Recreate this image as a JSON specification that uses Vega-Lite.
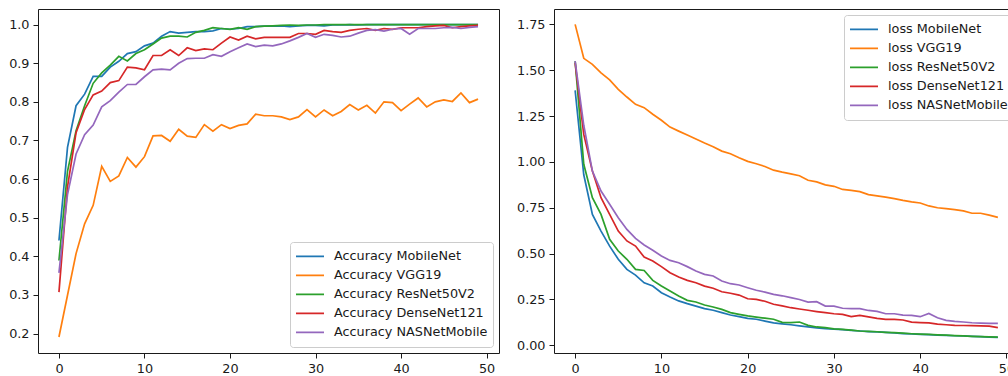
{
"$schema": "https://vega.github.io/schema/vega-lite/v6.json",
"padding": {"left": 8, "top": 8, "right": 0, "bottom": 0},
"background": "white",
"config": {
  "font": "DejaVu Sans",
  "view": {"stroke": "#1a1a1a", "strokeWidth": 1},
  "axis": {"grid": false, "domain": false, "tickSize": 5, "tickColor": "#1a1a1a", "tickWidth": 1, "labelColor": "#1a1a1a", "labelFontSize": 12.8, "labelPadding": 4, "labelFont": "DejaVu Sans", "title": null},
  "legend": {"symbolType": "stroke", "symbolSize": 784, "symbolStrokeWidth": 2, "labelFontSize": 12.8, "labelColor": "#1a1a1a", "labelFont": "DejaVu Sans", "padding": 5, "offset": 6, "strokeColor": "#cccccc", "fillColor": "rgba(255,255,255,0.85)", "cornerRadius": 3, "labelOffset": 9, "rowPadding": 0, "clipHeight": 18.6, "title": null},
  "line": {"strokeWidth": 1.7}
},
"data": {"values": [
{"epoch":0,"model":"MobileNet","acc":0.441,"loss":1.39},
{"epoch":1,"model":"MobileNet","acc":0.682,"loss":0.93},
{"epoch":2,"model":"MobileNet","acc":0.79,"loss":0.714},
{"epoch":3,"model":"MobileNet","acc":0.82,"loss":0.623},
{"epoch":4,"model":"MobileNet","acc":0.866,"loss":0.541},
{"epoch":5,"model":"MobileNet","acc":0.866,"loss":0.469},
{"epoch":6,"model":"MobileNet","acc":0.89,"loss":0.414},
{"epoch":7,"model":"MobileNet","acc":0.905,"loss":0.383},
{"epoch":8,"model":"MobileNet","acc":0.925,"loss":0.341},
{"epoch":9,"model":"MobileNet","acc":0.93,"loss":0.323},
{"epoch":10,"model":"MobileNet","acc":0.945,"loss":0.287},
{"epoch":11,"model":"MobileNet","acc":0.952,"loss":0.263},
{"epoch":12,"model":"MobileNet","acc":0.97,"loss":0.242},
{"epoch":13,"model":"MobileNet","acc":0.982,"loss":0.227},
{"epoch":14,"model":"MobileNet","acc":0.978,"loss":0.214},
{"epoch":15,"model":"MobileNet","acc":0.98,"loss":0.2},
{"epoch":16,"model":"MobileNet","acc":0.982,"loss":0.191},
{"epoch":17,"model":"MobileNet","acc":0.982,"loss":0.178},
{"epoch":18,"model":"MobileNet","acc":0.984,"loss":0.165},
{"epoch":19,"model":"MobileNet","acc":0.99,"loss":0.156},
{"epoch":20,"model":"MobileNet","acc":0.988,"loss":0.147},
{"epoch":21,"model":"MobileNet","acc":0.99,"loss":0.142},
{"epoch":22,"model":"MobileNet","acc":0.995,"loss":0.132},
{"epoch":23,"model":"MobileNet","acc":0.995,"loss":0.122},
{"epoch":24,"model":"MobileNet","acc":0.996,"loss":0.117},
{"epoch":25,"model":"MobileNet","acc":0.996,"loss":0.112},
{"epoch":26,"model":"MobileNet","acc":0.997,"loss":0.106},
{"epoch":27,"model":"MobileNet","acc":0.995,"loss":0.1},
{"epoch":28,"model":"MobileNet","acc":0.997,"loss":0.095},
{"epoch":29,"model":"MobileNet","acc":0.998,"loss":0.091},
{"epoch":30,"model":"MobileNet","acc":0.998,"loss":0.088},
{"epoch":31,"model":"MobileNet","acc":0.997,"loss":0.085},
{"epoch":32,"model":"MobileNet","acc":0.999,"loss":0.081},
{"epoch":33,"model":"MobileNet","acc":0.999,"loss":0.078},
{"epoch":34,"model":"MobileNet","acc":1.0,"loss":0.075},
{"epoch":35,"model":"MobileNet","acc":0.999,"loss":0.073},
{"epoch":36,"model":"MobileNet","acc":1.0,"loss":0.07},
{"epoch":37,"model":"MobileNet","acc":1.0,"loss":0.067},
{"epoch":38,"model":"MobileNet","acc":1.0,"loss":0.064},
{"epoch":39,"model":"MobileNet","acc":1.0,"loss":0.062},
{"epoch":40,"model":"MobileNet","acc":1.0,"loss":0.06},
{"epoch":41,"model":"MobileNet","acc":1.0,"loss":0.058},
{"epoch":42,"model":"MobileNet","acc":1.0,"loss":0.056},
{"epoch":43,"model":"MobileNet","acc":1.0,"loss":0.054},
{"epoch":44,"model":"MobileNet","acc":1.0,"loss":0.052},
{"epoch":45,"model":"MobileNet","acc":1.0,"loss":0.051},
{"epoch":46,"model":"MobileNet","acc":1.0,"loss":0.049},
{"epoch":47,"model":"MobileNet","acc":1.0,"loss":0.047},
{"epoch":48,"model":"MobileNet","acc":1.0,"loss":0.045},
{"epoch":49,"model":"MobileNet","acc":1.0,"loss":0.043},
{"epoch":0,"model":"VGG19","acc":0.191,"loss":1.75},
{"epoch":1,"model":"VGG19","acc":0.299,"loss":1.565},
{"epoch":2,"model":"VGG19","acc":0.407,"loss":1.532},
{"epoch":3,"model":"VGG19","acc":0.484,"loss":1.486},
{"epoch":4,"model":"VGG19","acc":0.532,"loss":1.447},
{"epoch":5,"model":"VGG19","acc":0.633,"loss":1.396},
{"epoch":6,"model":"VGG19","acc":0.594,"loss":1.354},
{"epoch":7,"model":"VGG19","acc":0.608,"loss":1.314},
{"epoch":8,"model":"VGG19","acc":0.656,"loss":1.296},
{"epoch":9,"model":"VGG19","acc":0.631,"loss":1.26},
{"epoch":10,"model":"VGG19","acc":0.658,"loss":1.227},
{"epoch":11,"model":"VGG19","acc":0.712,"loss":1.19},
{"epoch":12,"model":"VGG19","acc":0.713,"loss":1.168},
{"epoch":13,"model":"VGG19","acc":0.698,"loss":1.147},
{"epoch":14,"model":"VGG19","acc":0.729,"loss":1.125},
{"epoch":15,"model":"VGG19","acc":0.711,"loss":1.103},
{"epoch":16,"model":"VGG19","acc":0.708,"loss":1.083},
{"epoch":17,"model":"VGG19","acc":0.741,"loss":1.059},
{"epoch":18,"model":"VGG19","acc":0.724,"loss":1.045},
{"epoch":19,"model":"VGG19","acc":0.741,"loss":1.023},
{"epoch":20,"model":"VGG19","acc":0.731,"loss":1.003},
{"epoch":21,"model":"VGG19","acc":0.739,"loss":0.99},
{"epoch":22,"model":"VGG19","acc":0.743,"loss":0.975},
{"epoch":23,"model":"VGG19","acc":0.768,"loss":0.955},
{"epoch":24,"model":"VGG19","acc":0.764,"loss":0.944},
{"epoch":25,"model":"VGG19","acc":0.764,"loss":0.935},
{"epoch":26,"model":"VGG19","acc":0.761,"loss":0.925},
{"epoch":27,"model":"VGG19","acc":0.754,"loss":0.9},
{"epoch":28,"model":"VGG19","acc":0.761,"loss":0.891},
{"epoch":29,"model":"VGG19","acc":0.78,"loss":0.875},
{"epoch":30,"model":"VGG19","acc":0.761,"loss":0.867},
{"epoch":31,"model":"VGG19","acc":0.779,"loss":0.85},
{"epoch":32,"model":"VGG19","acc":0.764,"loss":0.845},
{"epoch":33,"model":"VGG19","acc":0.775,"loss":0.838},
{"epoch":34,"model":"VGG19","acc":0.793,"loss":0.822},
{"epoch":35,"model":"VGG19","acc":0.779,"loss":0.815},
{"epoch":36,"model":"VGG19","acc":0.791,"loss":0.808},
{"epoch":37,"model":"VGG19","acc":0.771,"loss":0.8},
{"epoch":38,"model":"VGG19","acc":0.8,"loss":0.79},
{"epoch":39,"model":"VGG19","acc":0.798,"loss":0.782},
{"epoch":40,"model":"VGG19","acc":0.777,"loss":0.776},
{"epoch":41,"model":"VGG19","acc":0.794,"loss":0.76},
{"epoch":42,"model":"VGG19","acc":0.81,"loss":0.75},
{"epoch":43,"model":"VGG19","acc":0.787,"loss":0.745},
{"epoch":44,"model":"VGG19","acc":0.8,"loss":0.74},
{"epoch":45,"model":"VGG19","acc":0.805,"loss":0.733},
{"epoch":46,"model":"VGG19","acc":0.801,"loss":0.72},
{"epoch":47,"model":"VGG19","acc":0.823,"loss":0.72},
{"epoch":48,"model":"VGG19","acc":0.798,"loss":0.71},
{"epoch":49,"model":"VGG19","acc":0.807,"loss":0.698},
{"epoch":0,"model":"ResNet50V2","acc":0.389,"loss":1.55},
{"epoch":1,"model":"ResNet50V2","acc":0.62,"loss":0.987},
{"epoch":2,"model":"ResNet50V2","acc":0.725,"loss":0.805},
{"epoch":3,"model":"ResNet50V2","acc":0.79,"loss":0.714},
{"epoch":4,"model":"ResNet50V2","acc":0.848,"loss":0.578},
{"epoch":5,"model":"ResNet50V2","acc":0.875,"loss":0.514},
{"epoch":6,"model":"ResNet50V2","acc":0.895,"loss":0.469},
{"epoch":7,"model":"ResNet50V2","acc":0.918,"loss":0.414},
{"epoch":8,"model":"ResNet50V2","acc":0.906,"loss":0.408},
{"epoch":9,"model":"ResNet50V2","acc":0.925,"loss":0.354},
{"epoch":10,"model":"ResNet50V2","acc":0.935,"loss":0.323},
{"epoch":11,"model":"ResNet50V2","acc":0.95,"loss":0.296},
{"epoch":12,"model":"ResNet50V2","acc":0.965,"loss":0.269},
{"epoch":13,"model":"ResNet50V2","acc":0.97,"loss":0.245},
{"epoch":14,"model":"ResNet50V2","acc":0.97,"loss":0.236},
{"epoch":15,"model":"ResNet50V2","acc":0.968,"loss":0.22},
{"epoch":16,"model":"ResNet50V2","acc":0.98,"loss":0.209},
{"epoch":17,"model":"ResNet50V2","acc":0.985,"loss":0.196},
{"epoch":18,"model":"ResNet50V2","acc":0.992,"loss":0.178},
{"epoch":19,"model":"ResNet50V2","acc":0.99,"loss":0.169},
{"epoch":20,"model":"ResNet50V2","acc":0.988,"loss":0.16},
{"epoch":21,"model":"ResNet50V2","acc":0.992,"loss":0.154},
{"epoch":22,"model":"ResNet50V2","acc":0.988,"loss":0.148},
{"epoch":23,"model":"ResNet50V2","acc":0.995,"loss":0.142},
{"epoch":24,"model":"ResNet50V2","acc":0.996,"loss":0.125},
{"epoch":25,"model":"ResNet50V2","acc":0.997,"loss":0.124},
{"epoch":26,"model":"ResNet50V2","acc":0.998,"loss":0.127},
{"epoch":27,"model":"ResNet50V2","acc":0.999,"loss":0.109},
{"epoch":28,"model":"ResNet50V2","acc":0.998,"loss":0.1},
{"epoch":29,"model":"ResNet50V2","acc":0.999,"loss":0.096},
{"epoch":30,"model":"ResNet50V2","acc":0.999,"loss":0.09},
{"epoch":31,"model":"ResNet50V2","acc":1.0,"loss":0.087},
{"epoch":32,"model":"ResNet50V2","acc":1.0,"loss":0.083},
{"epoch":33,"model":"ResNet50V2","acc":1.0,"loss":0.078},
{"epoch":34,"model":"ResNet50V2","acc":1.0,"loss":0.076},
{"epoch":35,"model":"ResNet50V2","acc":1.0,"loss":0.074},
{"epoch":36,"model":"ResNet50V2","acc":1.0,"loss":0.071},
{"epoch":37,"model":"ResNet50V2","acc":1.0,"loss":0.069},
{"epoch":38,"model":"ResNet50V2","acc":1.0,"loss":0.066},
{"epoch":39,"model":"ResNet50V2","acc":1.0,"loss":0.063},
{"epoch":40,"model":"ResNet50V2","acc":1.0,"loss":0.061},
{"epoch":41,"model":"ResNet50V2","acc":1.0,"loss":0.06},
{"epoch":42,"model":"ResNet50V2","acc":1.0,"loss":0.057},
{"epoch":43,"model":"ResNet50V2","acc":1.0,"loss":0.055},
{"epoch":44,"model":"ResNet50V2","acc":1.0,"loss":0.053},
{"epoch":45,"model":"ResNet50V2","acc":1.0,"loss":0.051},
{"epoch":46,"model":"ResNet50V2","acc":1.0,"loss":0.049},
{"epoch":47,"model":"ResNet50V2","acc":1.0,"loss":0.047},
{"epoch":48,"model":"ResNet50V2","acc":1.0,"loss":0.046},
{"epoch":49,"model":"ResNet50V2","acc":1.0,"loss":0.045},
{"epoch":0,"model":"DenseNet121","acc":0.307,"loss":1.54},
{"epoch":1,"model":"DenseNet121","acc":0.58,"loss":1.15},
{"epoch":2,"model":"DenseNet121","acc":0.72,"loss":0.95},
{"epoch":3,"model":"DenseNet121","acc":0.78,"loss":0.805},
{"epoch":4,"model":"DenseNet121","acc":0.818,"loss":0.714},
{"epoch":5,"model":"DenseNet121","acc":0.828,"loss":0.623},
{"epoch":6,"model":"DenseNet121","acc":0.85,"loss":0.569},
{"epoch":7,"model":"DenseNet121","acc":0.855,"loss":0.541},
{"epoch":8,"model":"DenseNet121","acc":0.89,"loss":0.481},
{"epoch":9,"model":"DenseNet121","acc":0.888,"loss":0.46},
{"epoch":10,"model":"DenseNet121","acc":0.883,"loss":0.429},
{"epoch":11,"model":"DenseNet121","acc":0.92,"loss":0.396},
{"epoch":12,"model":"DenseNet121","acc":0.92,"loss":0.372},
{"epoch":13,"model":"DenseNet121","acc":0.935,"loss":0.354},
{"epoch":14,"model":"DenseNet121","acc":0.92,"loss":0.341},
{"epoch":15,"model":"DenseNet121","acc":0.94,"loss":0.323},
{"epoch":16,"model":"DenseNet121","acc":0.933,"loss":0.311},
{"epoch":17,"model":"DenseNet121","acc":0.937,"loss":0.292},
{"epoch":18,"model":"DenseNet121","acc":0.935,"loss":0.284},
{"epoch":19,"model":"DenseNet121","acc":0.952,"loss":0.274},
{"epoch":20,"model":"DenseNet121","acc":0.968,"loss":0.254},
{"epoch":21,"model":"DenseNet121","acc":0.96,"loss":0.25},
{"epoch":22,"model":"DenseNet121","acc":0.97,"loss":0.24},
{"epoch":23,"model":"DenseNet121","acc":0.963,"loss":0.224},
{"epoch":24,"model":"DenseNet121","acc":0.967,"loss":0.215},
{"epoch":25,"model":"DenseNet121","acc":0.967,"loss":0.205},
{"epoch":26,"model":"DenseNet121","acc":0.967,"loss":0.198},
{"epoch":27,"model":"DenseNet121","acc":0.967,"loss":0.191},
{"epoch":28,"model":"DenseNet121","acc":0.977,"loss":0.184},
{"epoch":29,"model":"DenseNet121","acc":0.977,"loss":0.178},
{"epoch":30,"model":"DenseNet121","acc":0.975,"loss":0.172},
{"epoch":31,"model":"DenseNet121","acc":0.985,"loss":0.169},
{"epoch":32,"model":"DenseNet121","acc":0.982,"loss":0.156},
{"epoch":33,"model":"DenseNet121","acc":0.98,"loss":0.163},
{"epoch":34,"model":"DenseNet121","acc":0.985,"loss":0.155},
{"epoch":35,"model":"DenseNet121","acc":0.988,"loss":0.147},
{"epoch":36,"model":"DenseNet121","acc":0.99,"loss":0.141},
{"epoch":37,"model":"DenseNet121","acc":0.985,"loss":0.141},
{"epoch":38,"model":"DenseNet121","acc":0.99,"loss":0.138},
{"epoch":39,"model":"DenseNet121","acc":0.988,"loss":0.126},
{"epoch":40,"model":"DenseNet121","acc":0.992,"loss":0.124},
{"epoch":41,"model":"DenseNet121","acc":0.992,"loss":0.122},
{"epoch":42,"model":"DenseNet121","acc":0.992,"loss":0.115},
{"epoch":43,"model":"DenseNet121","acc":0.995,"loss":0.112},
{"epoch":44,"model":"DenseNet121","acc":0.997,"loss":0.109},
{"epoch":45,"model":"DenseNet121","acc":0.998,"loss":0.108},
{"epoch":46,"model":"DenseNet121","acc":0.992,"loss":0.107},
{"epoch":47,"model":"DenseNet121","acc":0.995,"loss":0.106},
{"epoch":48,"model":"DenseNet121","acc":0.997,"loss":0.105},
{"epoch":49,"model":"DenseNet121","acc":0.998,"loss":0.096},
{"epoch":0,"model":"NASNetMobile","acc":0.357,"loss":1.55},
{"epoch":1,"model":"NASNetMobile","acc":0.56,"loss":1.2},
{"epoch":2,"model":"NASNetMobile","acc":0.665,"loss":0.95},
{"epoch":3,"model":"NASNetMobile","acc":0.715,"loss":0.841},
{"epoch":4,"model":"NASNetMobile","acc":0.74,"loss":0.769},
{"epoch":5,"model":"NASNetMobile","acc":0.787,"loss":0.696},
{"epoch":6,"model":"NASNetMobile","acc":0.803,"loss":0.632},
{"epoch":7,"model":"NASNetMobile","acc":0.825,"loss":0.583},
{"epoch":8,"model":"NASNetMobile","acc":0.845,"loss":0.547},
{"epoch":9,"model":"NASNetMobile","acc":0.845,"loss":0.518},
{"epoch":10,"model":"NASNetMobile","acc":0.865,"loss":0.487},
{"epoch":11,"model":"NASNetMobile","acc":0.883,"loss":0.463},
{"epoch":12,"model":"NASNetMobile","acc":0.885,"loss":0.45},
{"epoch":13,"model":"NASNetMobile","acc":0.883,"loss":0.429},
{"epoch":14,"model":"NASNetMobile","acc":0.9,"loss":0.405},
{"epoch":15,"model":"NASNetMobile","acc":0.912,"loss":0.387},
{"epoch":16,"model":"NASNetMobile","acc":0.913,"loss":0.378},
{"epoch":17,"model":"NASNetMobile","acc":0.913,"loss":0.351},
{"epoch":18,"model":"NASNetMobile","acc":0.922,"loss":0.336},
{"epoch":19,"model":"NASNetMobile","acc":0.918,"loss":0.329},
{"epoch":20,"model":"NASNetMobile","acc":0.93,"loss":0.314},
{"epoch":21,"model":"NASNetMobile","acc":0.94,"loss":0.3},
{"epoch":22,"model":"NASNetMobile","acc":0.95,"loss":0.29},
{"epoch":23,"model":"NASNetMobile","acc":0.943,"loss":0.278},
{"epoch":24,"model":"NASNetMobile","acc":0.947,"loss":0.27},
{"epoch":25,"model":"NASNetMobile","acc":0.945,"loss":0.26},
{"epoch":26,"model":"NASNetMobile","acc":0.95,"loss":0.25},
{"epoch":27,"model":"NASNetMobile","acc":0.958,"loss":0.236},
{"epoch":28,"model":"NASNetMobile","acc":0.967,"loss":0.238},
{"epoch":29,"model":"NASNetMobile","acc":0.977,"loss":0.214},
{"epoch":30,"model":"NASNetMobile","acc":0.967,"loss":0.214},
{"epoch":31,"model":"NASNetMobile","acc":0.975,"loss":0.202},
{"epoch":32,"model":"NASNetMobile","acc":0.972,"loss":0.2},
{"epoch":33,"model":"NASNetMobile","acc":0.968,"loss":0.2},
{"epoch":34,"model":"NASNetMobile","acc":0.97,"loss":0.19},
{"epoch":35,"model":"NASNetMobile","acc":0.978,"loss":0.185},
{"epoch":36,"model":"NASNetMobile","acc":0.985,"loss":0.172},
{"epoch":37,"model":"NASNetMobile","acc":0.987,"loss":0.172},
{"epoch":38,"model":"NASNetMobile","acc":0.983,"loss":0.165},
{"epoch":39,"model":"NASNetMobile","acc":0.988,"loss":0.163},
{"epoch":40,"model":"NASNetMobile","acc":0.99,"loss":0.156},
{"epoch":41,"model":"NASNetMobile","acc":0.975,"loss":0.174},
{"epoch":42,"model":"NASNetMobile","acc":0.99,"loss":0.15},
{"epoch":43,"model":"NASNetMobile","acc":0.99,"loss":0.136},
{"epoch":44,"model":"NASNetMobile","acc":0.99,"loss":0.13},
{"epoch":45,"model":"NASNetMobile","acc":0.992,"loss":0.127},
{"epoch":46,"model":"NASNetMobile","acc":0.993,"loss":0.123},
{"epoch":47,"model":"NASNetMobile","acc":0.99,"loss":0.121},
{"epoch":48,"model":"NASNetMobile","acc":0.993,"loss":0.12},
{"epoch":49,"model":"NASNetMobile","acc":0.995,"loss":0.12}
]},
"bounds": "flush",
"spacing": 55,
"resolve": {"legend": {"color": "independent"}},
"hconcat": [
  {
    "width": 461, "height": 344,
    "mark": {"type": "line", "clip": true},
    "encoding": {
      "x": {"field": "epoch", "type": "quantitative", "scale": {"domain": [-2.45, 51.45], "nice": false, "zero": false}, "axis": {"values": [0, 10, 20, 30, 40, 50], "title": null}},
      "y": {"field": "acc", "type": "quantitative", "scale": {"domain": [0.1495, 1.0405], "nice": false, "zero": false}, "axis": {"values": [0.2, 0.3, 0.4, 0.5, 0.6, 0.7, 0.8, 0.9, 1.0], "format": ".1f", "title": null}},
      "color": {"field": "model", "type": "nominal", "scale": {"domain": ["MobileNet", "VGG19", "ResNet50V2", "DenseNet121", "NASNetMobile"], "range": ["#1f77b4", "#ff7f0e", "#2ca02c", "#d62728", "#9467bd"]}, "legend": {"orient": "bottom-right", "labelExpr": "'Accuracy ' + datum.label", "title": null, "labelFontSize": 12.8, "rowPadding": 0, "clipHeight": 18.6}}
    }
  },
  {
    "width": 465, "height": 344,
    "mark": {"type": "line", "clip": true},
    "encoding": {
      "x": {"field": "epoch", "type": "quantitative", "scale": {"domain": [-2.45, 51.45], "nice": false, "zero": false}, "axis": {"values": [0, 10, 20, 30, 40, 50], "title": null}},
      "y": {"field": "loss", "type": "quantitative", "scale": {"domain": [-0.042, 1.834], "nice": false, "zero": false}, "axis": {"values": [0, 0.25, 0.5, 0.75, 1.0, 1.25, 1.5, 1.75], "format": ".2f", "title": null}},
      "color": {"field": "model", "type": "nominal", "scale": {"domain": ["MobileNet", "VGG19", "ResNet50V2", "DenseNet121", "NASNetMobile"], "range": ["#1f77b4", "#ff7f0e", "#2ca02c", "#d62728", "#9467bd"]}, "legend": {"orient": "top-right", "labelExpr": "'loss ' + datum.label", "title": null, "labelFontSize": 12.8, "rowPadding": 0, "clipHeight": 18.6}}
    }
  }
]
}
